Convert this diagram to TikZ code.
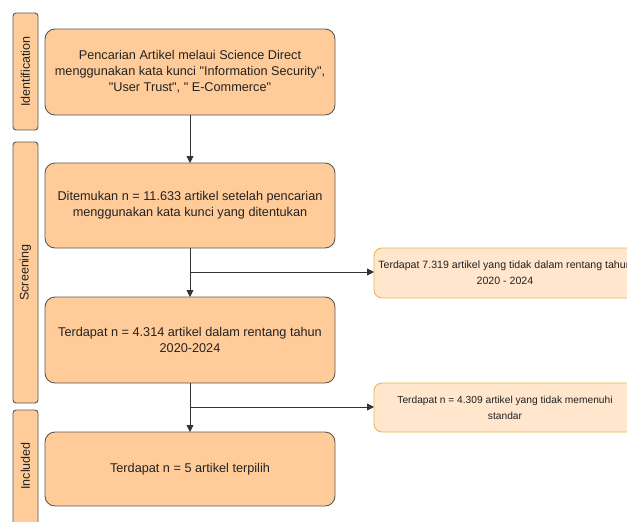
\documentclass[tikz,border=0pt]{standalone}
\usepackage{fontspec}
\newfontfamily\arial{Liberation Sans}
\usetikzlibrary{arrows.meta}
\definecolor{mainfill}{HTML}{FFCC99}
\definecolor{mainline}{HTML}{5A5A5A}
\definecolor{sidefill}{HTML}{FFE6CC}
\definecolor{sideline}{HTML}{E8B84A}
\definecolor{txt}{HTML}{222222}
\begin{document}
\begin{tikzpicture}[x=1pt,y=-1pt,
  mainbox/.style={draw=mainline, fill=mainfill, rounded corners=10pt, line width=0.9pt},
  labbox/.style={draw=mainline, fill=mainfill, rounded corners=3pt, line width=0.9pt},
  sidebox/.style={draw=sideline, fill=sidefill, rounded corners=8pt, line width=0.9pt},
  maintext/.style={text=txt, font=\arial\fontsize{12.7}{16}\selectfont, align=center},
  sidetext/.style={text=txt, font=\arial\fontsize{10.2}{16}\selectfont, align=center},
  labtext/.style={text=txt, font=\arial\fontsize{12.5}{14}\selectfont, rotate=90},
  conn/.style={draw=black!80, line width=0.9pt},
  arr/.style={conn, -{Triangle[length=7pt,width=7pt]}}]
\useasboundingbox (0,0) rectangle (627,522);
\clip (0,0) rectangle (627,522);
% phase labels
\draw[labbox] (13,13) rectangle (38,130);
\node[labtext] (lid) at (25.5,71.5) {Identification};
\draw[labbox] (13,142) rectangle (38,403);
\node[labtext] (lsc) at (25.5,272.5) {Screening};
\draw[labbox] (13,410) rectangle (38,540);
\node[labtext] (lin) at (25.5,466) {Included};
% main boxes
\draw[mainbox] (45,29) rectangle (335,115);
\node[maintext] (b1) at (190,72) {Pencarian Artikel melaui Science Direct\\menggunakan kata kunci "Information Security",\\"User Trust", " E-Commerce"};
\coordinate (b1s) at (190,115);
\draw[mainbox] (45,163) rectangle (335,248);
\node[maintext] (b2) at (190,205.5) {Ditemukan n = 11.633 artikel setelah pencarian\\menggunakan kata kunci yang ditentukan};
\coordinate (b2n) at (190,163);
\coordinate (b2s) at (190,248);
\draw[mainbox] (45,297) rectangle (335,383);
\node[maintext] (b3) at (190,340) {Terdapat n = 4.314 artikel dalam rentang tahun\\2020-2024};
\coordinate (b3n) at (190,297);
\coordinate (b3s) at (190,383);
\draw[mainbox] (45,432) rectangle (335,506);
\node[maintext] (b4) at (190,469) {Terdapat n = 5 artikel terpilih};
\coordinate (b4n) at (190,432);
% side boxes
\draw[sidebox] (374,248) rectangle (640,298);
\node[sidetext, font=\arial\fontsize{10.6}{16}\selectfont] (s1) at (505,273) {Terdapat 7.319 artikel yang tidak dalam rentang tahun\\2020 - 2024};
\coordinate (s1w) at (374,272);
\draw[sidebox] (374,383) rectangle (640,432);
\node[sidetext] (s2) at (505,407.5) {Terdapat n = 4.309 artikel yang tidak memenuhi\\standar};
\coordinate (s2w) at (374,407);
% connectors
\draw[arr] (b1s) -- (b2n);
\draw[arr] (b2s) -- (b3n);
\draw[arr] (b3s) -- (b4n);
\coordinate (j1) at (190,272);
\coordinate (j2) at (190,407);
\draw[arr] (j1) -- (s1w);
\draw[arr] (j2) -- (s2w);
\end{tikzpicture}
\end{document}
